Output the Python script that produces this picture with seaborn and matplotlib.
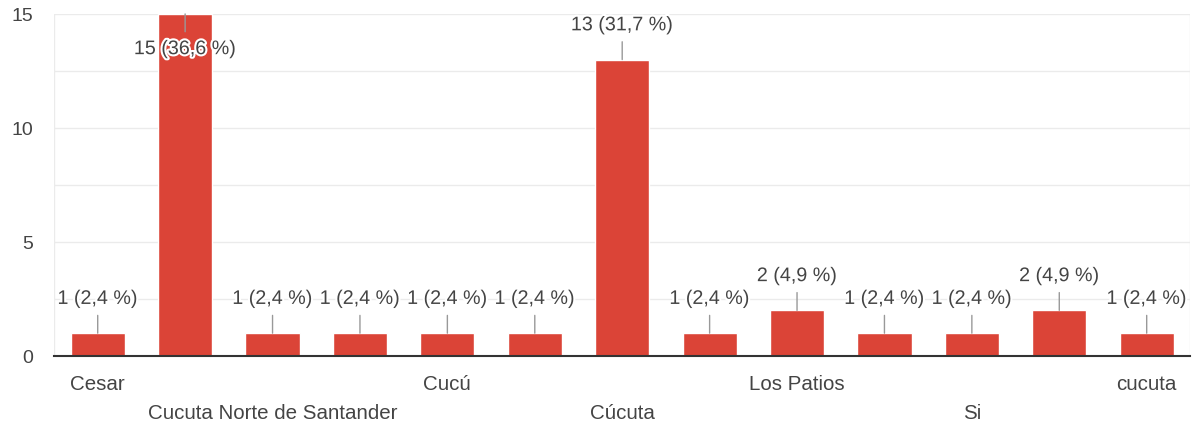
import matplotlib
matplotlib.use("Agg")
import matplotlib.pyplot as plt
import matplotlib.patheffects as pe
from matplotlib.ticker import MultipleLocator
import seaborn as sns
import pandas as pd

# Data
positions = list(range(13))
values = [1, 15, 1, 1, 1, 1, 13, 1, 2, 1, 1, 2, 1]
value_labels = ["1 (2,4 %)", "15 (36,6 %)", "1 (2,4 %)", "1 (2,4 %)", "1 (2,4 %)",
                "1 (2,4 %)", "13 (31,7 %)", "1 (2,4 %)", "2 (4,9 %)", "1 (2,4 %)",
                "1 (2,4 %)", "2 (4,9 %)", "1 (2,4 %)"]
tick_labels = ["Cesar", "", "Cucuta Norte de Santander", "", "Cucú", "", "Cúcuta",
               "", "Los Patios", "", "Si", "", "cucuta"]
y_ticks = [0, 5, 10, 15]

sns.set_style("white")
plt.rcParams['font.family'] = ['Liberation Sans', 'DejaVu Sans']

BAR = "#DB4437"
TXT = "#444444"

fig = plt.figure(figsize=(12, 4.27), dpi=100)
ax = fig.add_axes([0.045, 0.164, 0.947, 0.801])

df = pd.DataFrame({"pos": positions, "val": values})
sns.barplot(data=df, x="pos", y="val", color=BAR, saturation=1, width=0.62,
            ax=ax, zorder=2)

ax.set_xlim(-0.5, len(values) - 0.5)
ax.set_ylim(0, 15)
ax.set_yticks(y_ticks)
ax.yaxis.set_minor_locator(MultipleLocator(2.5))
ax.grid(axis="y", which="both", color="#ebebeb", lw=1, zorder=0)
ax.set_axisbelow(True)
ax.tick_params(axis="y", length=0, pad=15, labelsize=14, labelcolor=TXT, which="both")
ax.set_xlabel("")
ax.set_ylabel("")
ax.set_xticks(positions)
ax.set_xticklabels([])
ax.tick_params(axis="x", length=0)

for s in ["left", "right", "top"]:
    ax.spines[s].set_visible(False)
ax.spines["bottom"].set_color("#333333")
ax.spines["bottom"].set_linewidth(1.5)
ax.spines["bottom"].set_zorder(3)
ax.axvline(-0.5, color="#ebebeb", lw=1, zorder=0)
ax.axvline(len(values) - 0.5, color="#ebebeb", lw=1, zorder=0)

ymax = 15
for p, v, lab in zip(positions, values, value_labels):
    inside = v >= ymax - 0.5
    off = -25 if inside else 25
    ax.annotate(lab, xy=(p, v), xytext=(0, off), textcoords="offset points",
                ha="center", va="center", fontsize=14.2, color=TXT, zorder=5,
                path_effects=[pe.withStroke(linewidth=3, foreground="white")],
                arrowprops=dict(arrowstyle="-", color="#999999", lw=1,
                                shrinkA=3, shrinkB=0))

trans = ax.get_xaxis_transform()
row = 0
for p, lab in zip(positions, tick_labels):
    if not lab:
        continue
    dy = -20 if row % 2 == 0 else -41
    ax.annotate(lab, xy=(p, 0), xycoords=trans, xytext=(0, dy),
                textcoords="offset points", ha="center", va="center",
                fontsize=14.8, color=TXT, annotation_clip=False)
    row += 1

fig.savefig("out.png", dpi=100)
